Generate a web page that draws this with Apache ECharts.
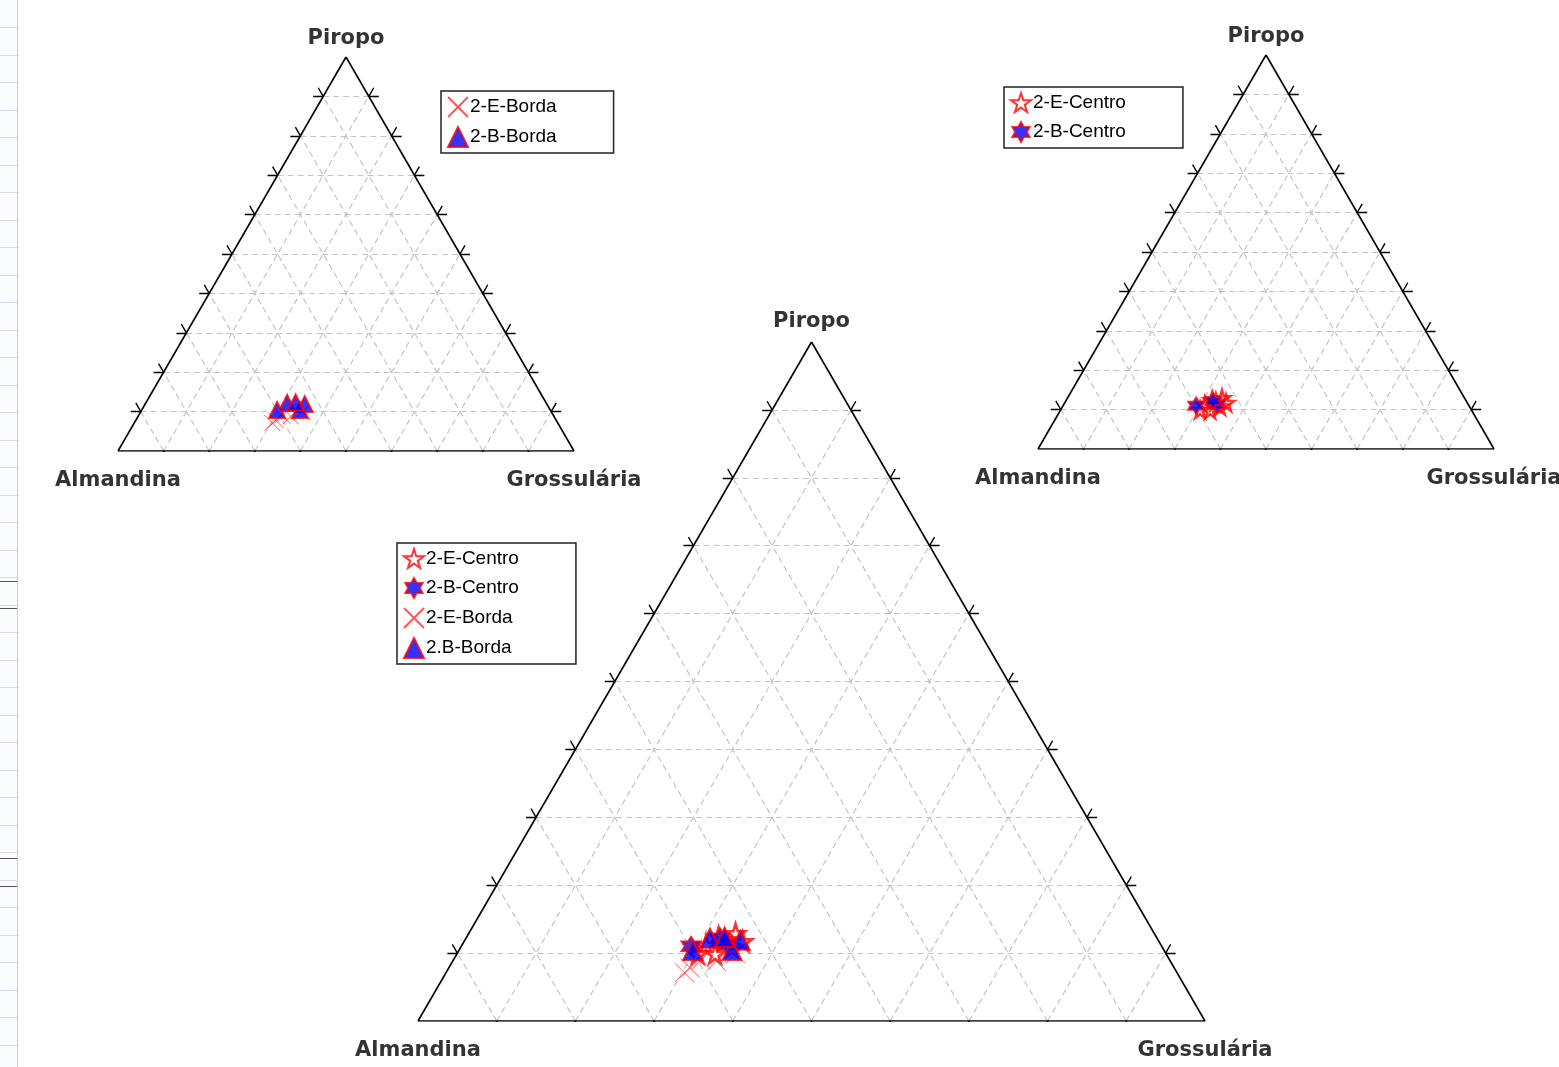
<!DOCTYPE html>
<html>
<head>
<meta charset="utf-8">
<title>Diagramas ternários - granadas</title>
<script src="https://cdn.jsdelivr.net/npm/echarts@6/dist/echarts.min.js"></script>
<style>
html, body { margin: 0; padding: 0; background: #fff; }
#chart { width: 1559px; height: 1067px; }
</style>
</head>
<body>
<div id="chart"></div>
<script>
// Vértices: topo, esquerda, direita
const vertices = ['Piropo', 'Almandina', 'Grossulária'];
// Divisões das escalas (%)
const divisoes = [10, 20, 30, 40, 50, 60, 70, 80, 90];

// Composições: [% Almandina, % Piropo, % Grossulária]
const eCentro = [
    [57.8, 11.2, 31.0], [55.6, 12.4, 32.0], [53.2, 12.9, 33.9], [52.9, 11.7, 35.4],
    [57.3, 9.9, 32.8], [59.5, 9.9, 30.6], [54.7, 10.8, 34.5], [55.0, 12.0, 33.0]
];
const bCentro = [
    [59.8, 11.0, 29.2], [55.1, 11.2, 33.7], [55.5, 12.2, 32.3]
];
const eBorda = [
    [61.5, 7.8, 30.7], [62.6, 7.1, 30.3], [59.5, 9.0, 31.5], [54.7, 9.9, 35.4], [57.7, 8.8, 33.5]
];
const bBorda = [
    [59.9, 10.4, 29.7], [56.8, 12.2, 31.0], [53.1, 11.9, 35.0], [54.9, 10.4, 34.7], [54.9, 12.3, 32.8]
];

// símbolos
const STAR5 = 'path://M50 0 L61 35 L98 35 L68 57 L79 91 L50 70 L21 91 L32 57 L2 35 L39 35 Z';
const STAR6 = 'path://M50 0 L64 25 L93 25 L79 50 L93 75 L64 75 L50 100 L36 75 L7 75 L21 50 L7 25 L36 25 Z';
const CROSS = 'path://M0 0 L100 100 M100 0 L0 100';

// ternário -> plano (x: 0..1, y = fração de piropo)
function toXY(c) {
    const pir = c[1] / 100, gro = c[2] / 100;
    return [gro + pir / 2, pir];
}
function pt(pir, gro) {
    return [gro + pir / 2, pir];
}

const estilos = {
    '2-E-Centro': { symbol: STAR5, itemStyle: { color: '#fff', borderColor: '#ff0000', borderWidth: 2.6 } },
    '2-B-Centro': { symbol: STAR6, itemStyle: { color: '#0000ff', borderColor: '#ff0000', borderWidth: 2 } },
    '2-E-Borda': { symbol: CROSS, itemStyle: { color: 'transparent', borderColor: '#ff2a2a', borderWidth: 1 } },
    '2-B-Borda': { symbol: 'triangle', itemStyle: { color: '#0000ff', borderColor: '#ff0000', borderWidth: 2 } },
    '2.B-Borda': { symbol: 'triangle', itemStyle: { color: '#0000ff', borderColor: '#ff0000', borderWidth: 2 } }
};

const paineis = [
    { left: 118, top: 57, width: 456, height: 394, marker: 16, legend: { left: 441, top: 91 },
      grupos: [['2-E-Borda', eBorda], ['2-B-Borda', bBorda]] },
    { left: 1038, top: 55, width: 456, height: 394, marker: 16, legend: { left: 1004, top: 87 },
      grupos: [['2-E-Centro', eCentro], ['2-B-Centro', bCentro]] },
    { left: 418, top: 342, width: 787, height: 679, marker: 19, legend: { left: 397, top: 543 },
      grupos: [['2-E-Centro', eCentro], ['2-B-Centro', bCentro], ['2-E-Borda', eBorda], ['2.B-Borda', bBorda]] }
];

const chart = echarts.init(document.getElementById('chart'));

const grid = [], xAxis = [], yAxis = [], legend = [], series = [];

paineis.forEach((p, i) => {
    grid.push({ left: p.left, top: p.top, width: p.width, height: p.height, containLabel: false });
    xAxis.push({ gridIndex: i, type: 'value', min: 0, max: 1, show: false });
    yAxis.push({ gridIndex: i, type: 'value', min: 0, max: 1, show: false });

    const eixo = { xAxisIndex: i, yAxisIndex: i, coordinateSystem: 'cartesian2d', silent: true };

    // linhas de grade tracejadas
    const grade = [];
    divisoes.forEach(d => {
        const t = d / 100;
        grade.push({ coords: [pt(t, 0), pt(t, 1 - t)] });
        grade.push({ coords: [pt(0, t), pt(1 - t, t)] });
        grade.push({ coords: [pt(0, 1 - t), pt(1 - t, 0)] });
    });
    series.push(Object.assign({
        type: 'lines', data: grade, z: 1,
        lineStyle: { color: '#c4c4c4', width: 1.2, type: [6, 4], opacity: 1 }
    }, eixo));

    // marcas das escalas
    const l = 10 / p.width;
    const marcas = [];
    divisoes.forEach(d => {
        const t = d / 100;
        const e = pt(t, 0), r = pt(t, 1 - t), b = pt(0, t);
        marcas.push({ coords: [e, [e[0] - l, e[1]]] });
        marcas.push({ coords: [e, [e[0] - l / 2, e[1] + l]] });
        marcas.push({ coords: [r, [r[0] + l, r[1]]] });
        marcas.push({ coords: [r, [r[0] + l / 2, r[1] + l]] });
        marcas.push({ coords: [b, [b[0] - l / 2, b[1] - l]] });
        marcas.push({ coords: [b, [b[0] + l / 2, b[1] - l]] });
    });
    series.push(Object.assign({
        type: 'lines', data: marcas, z: 2,
        lineStyle: { color: '#000', width: 1.4, opacity: 1 }
    }, eixo));

    // contorno do triângulo
    series.push(Object.assign({
        type: 'lines', z: 3,
        data: [
            { coords: [pt(0, 0), pt(0, 1)] },
            { coords: [pt(0, 1), pt(1, 0)] },
            { coords: [pt(1, 0), pt(0, 0)] }
        ],
        lineStyle: { color: '#000', width: 1.6, opacity: 1 }
    }, eixo));

    // nomes dos vértices
    const rotulo = {
        show: true, formatter: '{v|{b}}', color: '#000', textBorderWidth: 0,
        rich: { v: { color: '#000', fontFamily: 'DejaVu Sans', fontWeight: 'bold', fontSize: 21 } }
    };
    const dist = p.width > 600 ? 10 : 8;
    series.push({
        type: 'scatter', xAxisIndex: i, yAxisIndex: i, silent: true, clip: false,
        symbolSize: 0, z: 4,
        data: [
            { name: vertices[0], value: pt(1, 0), label: Object.assign({}, rotulo, { position: 'top', distance: dist }) },
            { name: vertices[1], value: pt(0, 0), label: Object.assign({}, rotulo, { position: 'bottom', distance: 19 }) },
            { name: vertices[2], value: pt(0, 1), label: Object.assign({}, rotulo, { position: 'bottom', distance: 19 }) }
        ],
        label: rotulo
    });

    // dados
    p.grupos.forEach(([nome, dados]) => {
        const s = estilos[nome];
        series.push({
            name: nome, type: 'scatter', xAxisIndex: i, yAxisIndex: i, clip: false, z: 10,
            symbol: s.symbol, symbolSize: p.marker,
            itemStyle: s.itemStyle,
            data: dados.map(toXY)
        });
    });

    legend.push({
        left: p.legend.left, top: p.legend.top, orient: 'vertical',
        data: p.grupos.map(g => g[0]),
        padding: [5, 57, 5, 6], itemGap: 8, itemWidth: 20, itemHeight: 20,
        borderColor: '#222', borderWidth: 1.5, selectedMode: false,
        textStyle: { fontFamily: 'Liberation Sans', fontSize: 19, color: '#000', padding: [0, 0, 0, -3] }
    });
});

// faixa da planilha à esquerda
const faixa = [{ type: 'rect', shape: { x: 0, y: 0, width: 17, height: 1067 }, style: { fill: '#fbfcfe' }, silent: true }];
for (let y = 27; y < 1067; y += 27.5) {
    faixa.push({ type: 'line', shape: { x1: 0, y1: Math.round(y) + 0.5, x2: 17, y2: Math.round(y) + 0.5 }, style: { stroke: '#d6dceb', lineWidth: 1 }, silent: true });
}
[581, 608, 858, 886].forEach(y => {
    faixa.push({ type: 'line', shape: { x1: 0, y1: y + 0.5, x2: 17, y2: y + 0.5 }, style: { stroke: '#555', lineWidth: 1 }, silent: true });
});
faixa.push({ type: 'line', shape: { x1: 17.5, y1: 0, x2: 17.5, y2: 1067 }, style: { stroke: '#c3cadb', lineWidth: 1 }, silent: true });

chart.setOption({
    backgroundColor: '#fff',
    animation: false,
    grid: grid,
    xAxis: xAxis,
    yAxis: yAxis,
    legend: legend,
    graphic: faixa,
    series: series
});

window.addEventListener('resize', () => chart.resize());
</script>
</body>
</html>
